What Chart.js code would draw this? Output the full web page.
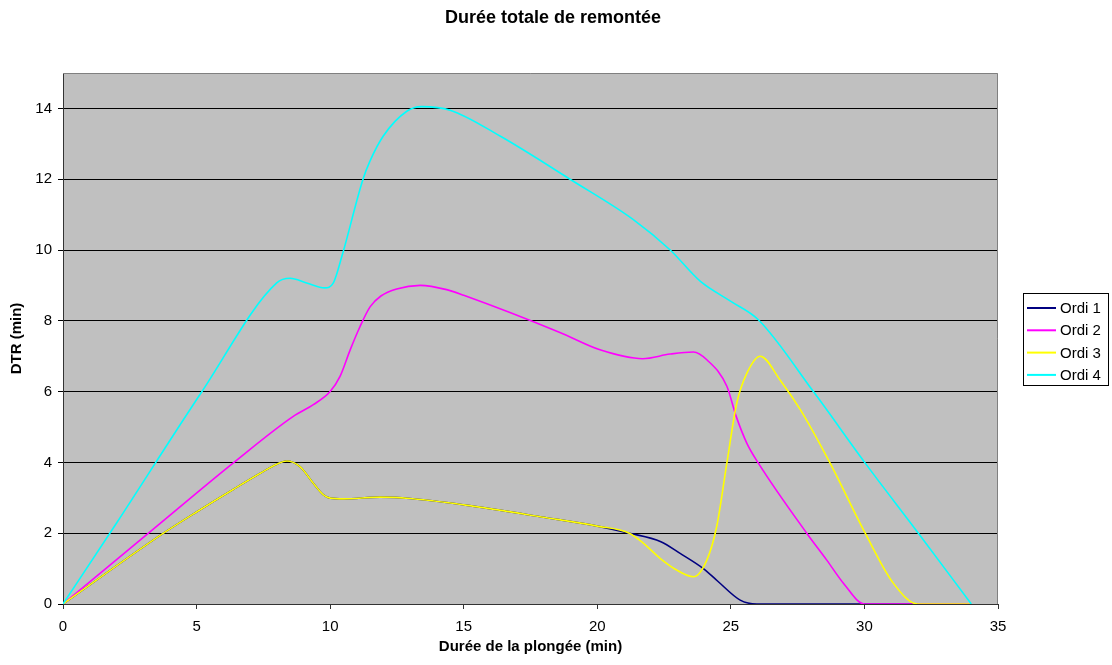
<!DOCTYPE html>
<html>
<head>
<meta charset="utf-8">
<script src="https://cdn.jsdelivr.net/npm/chart.js@4"></script>
<style>
  body { margin: 0; background: #fff; }
  #wrap { width: 1112px; height: 665px; position: relative; }
</style>
</head>
<body>
<div id="wrap"><canvas id="dtrChart"></canvas></div>
<script>
// series (x = durée de plongée, y = DTR)
const seriesNames = ['Ordi 1', 'Ordi 2', 'Ordi 3', 'Ordi 4'];
const seriesColors = ['#000080', '#FF00FF', '#FFFF00', '#00FFFF'];

const ordi1X = [0, 3.76, 5, 6.4, 7.4, 8.0, 8.37, 8.87, 9.37, 9.75, 10.0, 10.5, 11.87, 13, 15, 18, 20, 21.2, 22.38, 23.1, 23.97, 24.5, 25.35, 25.97, 28, 30, 32];
const ordi1Y = [0, 2.0, 2.6, 3.25, 3.7, 3.95, 4.04, 3.88, 3.41, 3.08, 2.99, 2.97, 3.02, 2.98, 2.8, 2.45, 2.2, 2.0, 1.76, 1.43, 1.0, 0.65, 0.11, 0, 0, 0, 0];

const ordi2X = [0, 3.2, 6.4, 8.62, 9.37, 10.0, 10.37, 10.75, 11.12, 11.5, 11.9, 12.49, 13.37, 14.36, 15, 18.6, 20.1, 21.7, 22.72, 23.6, 24.1, 24.85, 25.2, 25.6, 26.03, 27.84, 28.59, 29.22, 30, 32, 34];
const ordi2Y = [0, 2.0, 4.0, 5.3, 5.63, 6.0, 6.43, 7.18, 7.84, 8.4, 8.7, 8.9, 9.0, 8.88, 8.72, 7.67, 7.18, 6.93, 7.06, 7.12, 6.9, 6.15, 5.3, 4.54, 3.98, 2.0, 1.24, 0.58, 0, 0, 0];

const ordi3X = [0, 3.76, 5, 6.4, 7.4, 8.0, 8.37, 8.87, 9.37, 9.75, 10.0, 10.5, 11.87, 13, 15, 18, 20, 21.2, 21.72, 22.35, 22.97, 23.6, 24.1, 24.47, 24.85, 25.22, 25.6, 26.1, 26.84, 27.6, 28.7, 30.03, 31.08, 32, 34];
const ordi3Y = [0, 2.0, 2.6, 3.25, 3.7, 3.95, 4.04, 3.88, 3.41, 3.08, 2.99, 2.97, 3.02, 2.98, 2.8, 2.45, 2.2, 2.0, 1.72, 1.29, 0.96, 0.77, 1.24, 2.19, 3.98, 5.67, 6.52, 7.0, 6.33, 5.49, 4.0, 2.0, 0.59, 0, 0];

const ordi4X = [0, 2, 5.19, 8.0, 8.5, 9.12, 9.8, 10.12, 10.45, 11.23, 11.49, 11.99, 12.87, 13.43, 14.49, 16.36, 18.98, 21.35, 22.73, 23.85, 25, 26.03, 28.09, 30.03, 32.02, 34];
const ordi4Y = [0, 2.28, 5.99, 9.07, 9.2, 9.07, 8.93, 9.07, 9.85, 12.0, 12.51, 13.22, 13.92, 14.05, 13.95, 13.22, 12.0, 10.86, 10.0, 9.12, 8.55, 8.03, 6.0, 3.98, 2.0, 0];

const xTicks = [0, 5, 10, 15, 20, 25, 30, 35];
const yTicks = [0, 2, 4, 6, 8, 10, 12, 14];

const allX = [ordi1X, ordi2X, ordi3X, ordi4X];
const allY = [ordi1Y, ordi2Y, ordi3Y, ordi4Y];

const FONT = '"Liberation Sans", Arial, sans-serif';

// grey plot area + frame
const plotBackground = {
    id: 'plotBackground',
    beforeDraw(chart) {
        const { ctx, chartArea: a } = chart;
        ctx.save();
        ctx.fillStyle = '#C0C0C0';
        ctx.fillRect(a.left, a.top, a.right - a.left, a.bottom - a.top);
        ctx.restore();
    },
    afterDraw(chart) {
        const { ctx, chartArea: a } = chart;
        ctx.save();
        ctx.strokeStyle = '#808080';
        ctx.lineWidth = 1;
        ctx.beginPath();
        ctx.moveTo(a.left, a.top + 0.5);
        ctx.lineTo(a.right - 0.5, a.top + 0.5);
        ctx.lineTo(a.right - 0.5, a.bottom);
        ctx.stroke();
        ctx.restore();
    }
};

// title and boxed legend like the original
const titleAndLegend = {
    id: 'titleAndLegend',
    afterDraw(chart) {
        const ctx = chart.ctx;
        ctx.save();
        ctx.fillStyle = '#000';
        ctx.font = 'bold 18px ' + FONT;
        ctx.textAlign = 'center';
        ctx.textBaseline = 'middle';
        ctx.fillText('Durée totale de remontée', 553, 18);

        const bx = 1023, by = 293, bw = 85, bh = 92;
        ctx.strokeStyle = '#000';
        ctx.lineWidth = 1;
        ctx.strokeRect(bx + 0.5, by + 0.5, bw, bh);
        ctx.font = '15px ' + FONT;
        ctx.textAlign = 'left';
        chart.data.datasets.forEach((ds, i) => {
            const y = by + 15 + i * 22.3;
            ctx.strokeStyle = ds.borderColor;
            ctx.lineWidth = 2;
            ctx.beginPath();
            ctx.moveTo(bx + 4, y);
            ctx.lineTo(bx + 33, y);
            ctx.stroke();
            ctx.fillStyle = '#000';
            ctx.fillText(ds.label, bx + 37, y + 1);
        });
        ctx.restore();
    }
};

const datasets = seriesNames.map((name, i) => ({
    label: name,
    data: allX[i].map((x, j) => ({ x: x, y: allY[i][j] })),
    borderColor: seriesColors[i],
    backgroundColor: seriesColors[i],
    borderWidth: 1.6,
    pointRadius: 0,
    fill: false,
    cubicInterpolationMode: 'monotone',
    order: seriesNames.length - i
}));

new Chart(document.getElementById('dtrChart'), {
    type: 'line',
    data: { datasets: datasets },
    options: {
        responsive: true,
        maintainAspectRatio: false,
        animation: false,
        layout: { padding: { left: 0, right: 114, top: 73, bottom: 0 } },
        plugins: {
            legend: { display: false },
            title: { display: false },
            tooltip: { enabled: false }
        },
        scales: {
            x: {
                type: 'linear',
                min: 0,
                max: 35,
                afterFit: (s) => { s.height = 61; },
                afterBuildTicks: (s) => { s.ticks = xTicks.map(v => ({ value: v })); },
                ticks: { color: '#000', padding: 9, font: { family: FONT, size: 15 } },
                grid: { drawOnChartArea: false, color: '#333', tickLength: 5 },
                border: { color: '#333', width: 1 },
                title: {
                    display: true,
                    text: 'Durée de la plongée (min)',
                    color: '#000',
                    font: { family: FONT, size: 15, weight: 'bold' },
                    padding: { top: 9, bottom: 9 }
                }
            },
            y: {
                min: 0,
                max: 15,
                afterFit: (s) => { s.width = 63; },
                afterBuildTicks: (s) => { s.ticks = yTicks.map(v => ({ value: v })); },
                ticks: { color: '#000', padding: 6, font: { family: FONT, size: 15 } },
                grid: { color: '#000', tickLength: 5 },
                border: { color: '#333', width: 1 },
                title: {
                    display: true,
                    text: 'DTR (min)',
                    color: '#000',
                    font: { family: FONT, size: 15, weight: 'bold' },
                    padding: { top: 8, bottom: 8 }
                }
            }
        }
    },
    plugins: [plotBackground, titleAndLegend]
});
</script>
</body>
</html>
